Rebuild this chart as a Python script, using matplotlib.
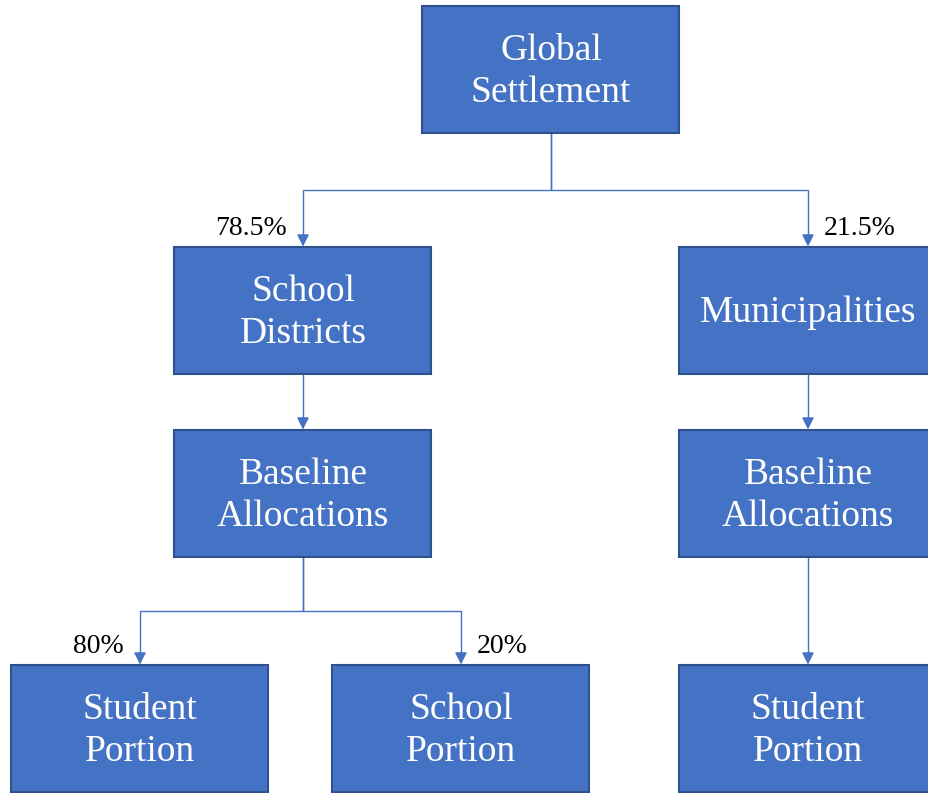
import matplotlib
matplotlib.use("Agg")
import matplotlib.pyplot as plt
from matplotlib.patches import Rectangle

# node labels and their centres (pixel space of the original diagram)
labels = ["Global\nSettlement", "School\nDistricts", "Municipalities",
          "Baseline\nAllocations", "Baseline\nAllocations",
          "Student\nPortion", "School\nPortion", "Student\nPortion"]
centre_x = [551, 303, 808, 303, 808, 140, 461, 808]
centre_y = [69, 310, 310, 493, 493, 728, 728, 728]

# edges: parent -> child, with share labels
edges = [(0, 1), (0, 2), (1, 3), (2, 4), (3, 5), (3, 6), (4, 7)]
shares = {(0, 1): "78.5%", (0, 2): "21.5%", (3, 5): "80%", (3, 6): "20%"}

box_w, box_h = 257, 127
fill = "#4472C4"
edge = "#2F528F"
line_col = "#4472C4"
font = "Liberation Serif"

fig = plt.figure(figsize=(9.29, 7.93), dpi=100)
ax = fig.add_axes([0, 0, 1, 1])
ax.set_xlim(0, 929)
ax.set_ylim(793, 0)
ax.axis("off")

arrow = dict(arrowstyle="-|>", color=line_col, lw=1,
             mutation_scale=18, shrinkA=0, shrinkB=0)

# connectors: elbow lines drawn with plot, arrowheads via annotate
for p, c in edges:
    px, py = centre_x[p], centre_y[p] + box_h / 2
    cx, cy = centre_x[c], centre_y[c] - box_h / 2
    if px == cx:
        ax.plot([px, cx], [py, cy - 8], color=line_col, lw=1)
    else:
        mid = (py + cy) / 2
        ax.plot([px, px, cx, cx], [py, mid, mid, cy - 8], color=line_col,
                lw=1, solid_capstyle="butt", solid_joinstyle="miter")
        if (p, c) in shares:
            left = cx < px
            ax.text(cx - 16 if left else cx + 16, cy - 18, shares[(p, c)],
                    ha="right" if left else "left", va="center",
                    fontsize=20, family=font, color="black")
    ax.annotate("", xy=(cx, cy), xytext=(cx, cy - 12), arrowprops=arrow)

# boxes
for lab, x, y in zip(labels, centre_x, centre_y):
    ax.add_patch(Rectangle((x - box_w / 2, y - box_h / 2), box_w, box_h,
                           facecolor=fill, edgecolor=edge, lw=1.5, zorder=3))
    ax.text(x, y + 3, lab, ha="center", va="center", color="white",
            fontsize=27, family=font, linespacing=1.3, zorder=4)

fig.savefig("out.png", dpi=100)
